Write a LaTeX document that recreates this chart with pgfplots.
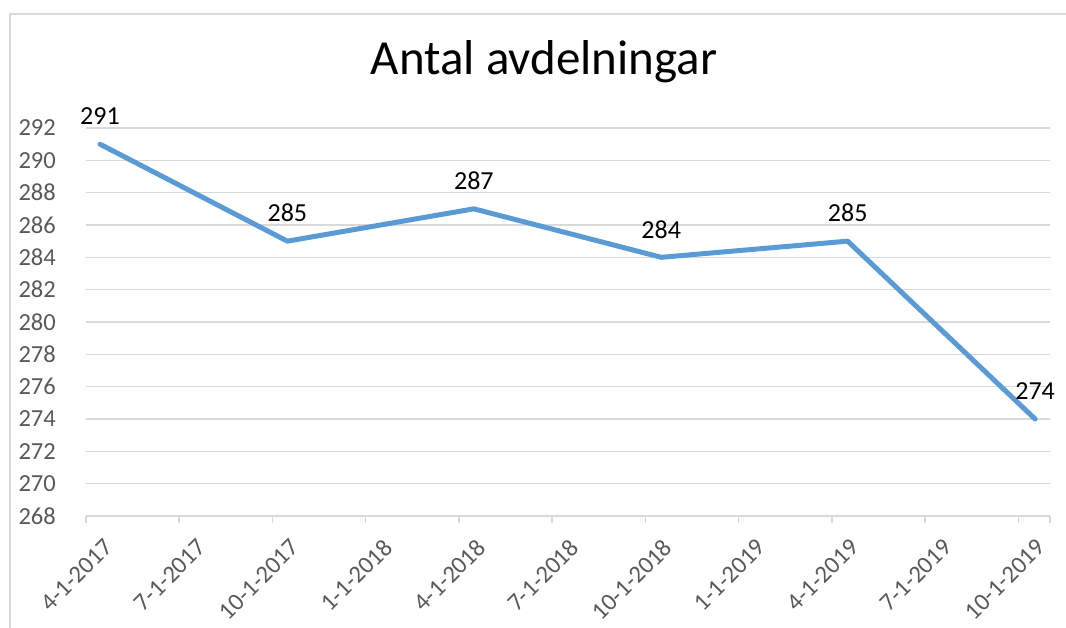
\documentclass[border=0pt]{standalone}
\usepackage{pgfplots}
\pgfplotsset{compat=1.18}
\usepackage{fontspec}
\setmainfont{Carlito}
\definecolor{lineblue}{HTML}{5B9BD5}
\definecolor{gridgray}{HTML}{D9D9D9}
\definecolor{ticktext}{HTML}{595959}
\begin{document}
\begin{tikzpicture}[x=1pt,y=1pt]
\useasboundingbox (0,0) rectangle (1066,628);
\draw[gridgray, line width=1.5pt] (10,0) -- (10,614) -- (1066,614);
\node[font=\fontsize{49}{58}\selectfont] at (544,566) {Antal avdelningar};
\begin{axis}[
  at={(86pt,112pt)}, anchor=south west,
  width=964pt, height=388pt, scale only axis,
  xmin=0, xmax=10.34, ymin=268, ymax=292,
  xtick={0,...,10},
  xticklabels={4-1-2017,7-1-2017,10-1-2017,1-1-2018,4-1-2018,7-1-2018,10-1-2018,1-1-2019,4-1-2019,7-1-2019,10-1-2019},
  extra x ticks={10.34}, extra x tick labels={},
  extra x tick style={grid=none},
  ytick={268,270,...,292},
  ymajorgrids, grid style={gridgray, line width=1.5pt},
  axis x line*=bottom, axis y line*=left,
  y axis line style={draw=none},
  x axis line style={gridgray, line width=1.5pt},
  ytick style={draw=none},
  xtick style={gridgray, line width=1.5pt},
  tick align=outside, major tick length=7pt,
  /pgf/number format/assume math mode=true,
  tick label style={font=\fontsize{24.5}{29}\selectfont, text=ticktext},
  y tick label style={anchor=east, inner sep=0pt, xshift=-23pt},
  x tick label style={rotate=45, anchor=east, inner sep=0pt, xshift=1.5pt, yshift=-30.5pt},
  clip=false,
  nodes near coords,
  every node near coord/.append style={font=\fontsize{26}{31}\selectfont, text=black, anchor=center, yshift=28pt},
]
\addplot[lineblue, line width=5pt, line join=round, line cap=round]
  coordinates {(0.15,291) (2.16,285) (4.16,287) (6.17,284) (8.17,285) (10.18,274)};
\end{axis}
\end{tikzpicture}
\end{document}
